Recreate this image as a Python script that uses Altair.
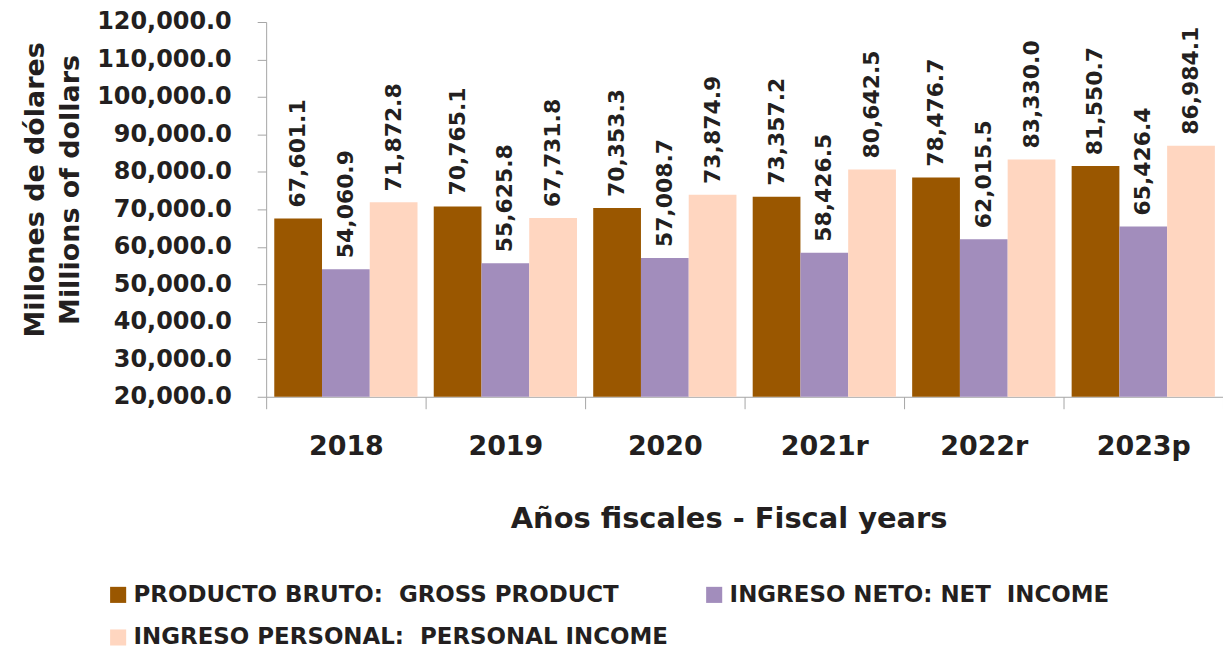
import altair as alt
import pandas as pd

years = ["2018", "2019", "2020", "2021r", "2022r", "2023p"]
series = ["PRODUCTO BRUTO:\u00a0 GROSS PRODUCT", "INGRESO NETO: NET\u00a0 INCOME", "INGRESO PERSONAL:\u00a0 PERSONAL INCOME"]
gross_product = [67601.1, 70765.1, 70353.3, 73357.2, 78476.7, 81550.7]
net_income = [54060.9, 55625.8, 57008.7, 58426.5, 62015.5, 65426.4]
personal_income = [71872.8, 67731.8, 73874.9, 80642.5, 83330.0, 86984.1]
y_ticks = [20000, 30000, 40000, 50000, 60000, 70000, 80000, 90000, 100000, 110000, 120000]
colors = ["#9A5700", "#A28DBC", "#FFD6C0"]

rows = []
for vals, s in zip([gross_product, net_income, personal_income], series):
    for y, v in zip(years, vals):
        rows.append({"year": y, "series": s, "value": v})
df = pd.DataFrame(rows)

FONT = "DejaVu Sans"
TXT = "#231F20"

x = alt.X("year:N", sort=years, scale=alt.Scale(paddingInner=0, paddingOuter=0),
          axis=alt.Axis(title="Años fiscales - Fiscal years", labelAngle=0, tickBand="extent",
                        tickSize=12, labelPadding=25, titlePadding=45, titleX=464,
                        labelFontSize=27, titleFontSize=29,
                        domainColor="#a6a6a6", tickColor="#a6a6a6"))
xo = alt.XOffset("series:N", sort=series, scale=alt.Scale(paddingOuter=0.17, paddingInner=0))
y = alt.Y("value:Q", scale=alt.Scale(domain=[20000, 120000], clamp=True, zero=False, nice=False),
          axis=alt.Axis(title=["Millones de dólares", "Millions of dollars"], format=",.1f",
                        values=y_ticks, tickCount=11, grid=False,
                        labelOverlap=False, labelFlush=False,
                        tickSize=9, labelPadding=26, labelFontSize=24,
                        titleFontSize=27, titleLineHeight=35, titlePadding=12, titleY=168,
                        domainColor="#a6a6a6", tickColor="#a6a6a6"))

bars = alt.Chart(df).mark_bar().encode(
    x=x, xOffset=xo, y=y,
    color=alt.Color("series:N", sort=series,
                    scale=alt.Scale(domain=series, range=colors),
                    legend=alt.Legend(title=None, orient="none", legendX=-160, legendY=563,
                                      direction="horizontal",
                                      columns=2, symbolType="square", symbolSize=260,
                                      symbolStrokeWidth=0, labelFontSize=23,
                                      labelFont=FONT, labelFontWeight="bold", labelColor=TXT,
                                      rowPadding=19, columnPadding=34, symbolOffset=0,
                                      labelLimit=800)),
)

labels = alt.Chart(df).mark_text(angle=270, align="left", baseline="middle", dx=11,
                                 fontSize=22, fontWeight="bold", font=FONT, color=TXT).encode(
    x=x, xOffset=xo, y=y, text=alt.Text("value:Q", format=",.1f"))

chart = alt.layer(bars, labels).properties(
    width=960, height=376,
    autosize=alt.AutoSizeParams(type="none"),
    padding={"left": 259, "top": 13, "right": 0, "bottom": 252},
).configure_view(stroke=None).configure_axis(
    labelFont=FONT, titleFont=FONT, labelFontWeight="bold", titleFontWeight="bold",
    labelColor=TXT, titleColor=TXT
)

chart.save("out.html", embed_options={"renderer": "svg", "actions": False})
